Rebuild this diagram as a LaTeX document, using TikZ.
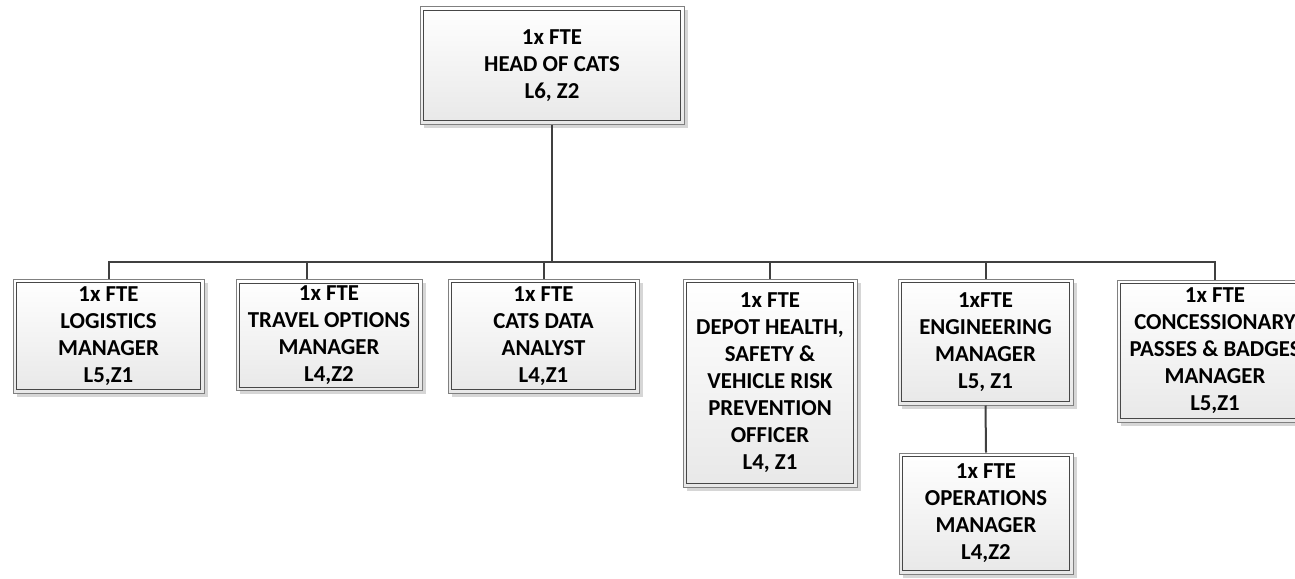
\documentclass[tikz,border=0pt]{standalone}
\usepackage{fontspec}
\setmainfont{Carlito}
\usetikzlibrary{shadows}
\tikzset{
  role/.style={draw=black!50, line width=1pt,
    top color=white, bottom color=black!9,
    drop shadow={shadow xshift=3.5pt, shadow yshift=-3.5pt, fill=black!16, opacity=1},
    path picture={\draw[black!72, line width=1pt]
      ([shift={(3.5pt,-3.5pt)}]path picture bounding box.north west) rectangle
      ([shift={(-3.5pt,3.5pt)}]path picture bounding box.south east);},
    align=center, font=\bfseries\fontsize{22.8}{27}\selectfont, inner sep=0pt},
  link/.style={draw=black!75, line width=2pt}
}
\begin{document}
\begin{tikzpicture}[x=1pt,y=-1pt]
\useasboundingbox (0,0) rectangle (1295,578);
\node[role, minimum width=264pt, minimum height=117pt] (head) at (552,65.5)
  {1x FTE\\HEAD OF CATS\\L6, Z2};
\node[role, minimum width=191pt, minimum height=114pt] (log) at (108.5,336)
  {1x FTE\\LOGISTICS\\MANAGER\\L5,Z1};
\node[role, minimum width=186pt, minimum height=111pt] (trav) at (329,335)
  {1x FTE\\TRAVEL OPTIONS\\MANAGER\\L4,Z2};
\node[role, minimum width=191pt, minimum height=114pt] (cats) at (543.5,336)
  {1x FTE\\CATS DATA\\ANALYST\\L4,Z1};
\node[role, minimum width=174pt, minimum height=208pt] (depot) at (770,383)
  {1x FTE\\DEPOT HEALTH,\\SAFETY \&\\VEHICLE RISK\\PREVENTION\\OFFICER\\L4, Z1};
\node[role, minimum width=175pt, minimum height=126pt] (eng) at (985.5,342)
  {1xFTE\\ENGINEERING\\MANAGER\\L5, Z1};
\node[role, minimum width=196pt, minimum height=142pt] (conc) at (1215,351)
  {1x FTE\\CONCESSIONARY\\PASSES \& BADGES\\MANAGER\\L5,Z1};
\node[role, minimum width=174pt, minimum height=121pt] (ops) at (986,513.5)
  {1x FTE\\OPERATIONS\\MANAGER\\L4,Z2};
\coordinate (bus) at (0,262);
\coordinate (travtop) at ([xshift=-22pt]trav.north);
\draw[link] (head.south) -- (head.south |- bus);
\draw[link] (log.north) |- (conc.north |- bus) -- (conc.north);
\draw[link] (travtop) -- (travtop |- bus);
\draw[link] (cats.north) -- (cats.north |- bus);
\draw[link] (depot.north) -- (depot.north |- bus);
\draw[link] (eng.north) -- (eng.north |- bus);
\draw[link] (eng.south) -- (ops.north);
\end{tikzpicture}
\end{document}
